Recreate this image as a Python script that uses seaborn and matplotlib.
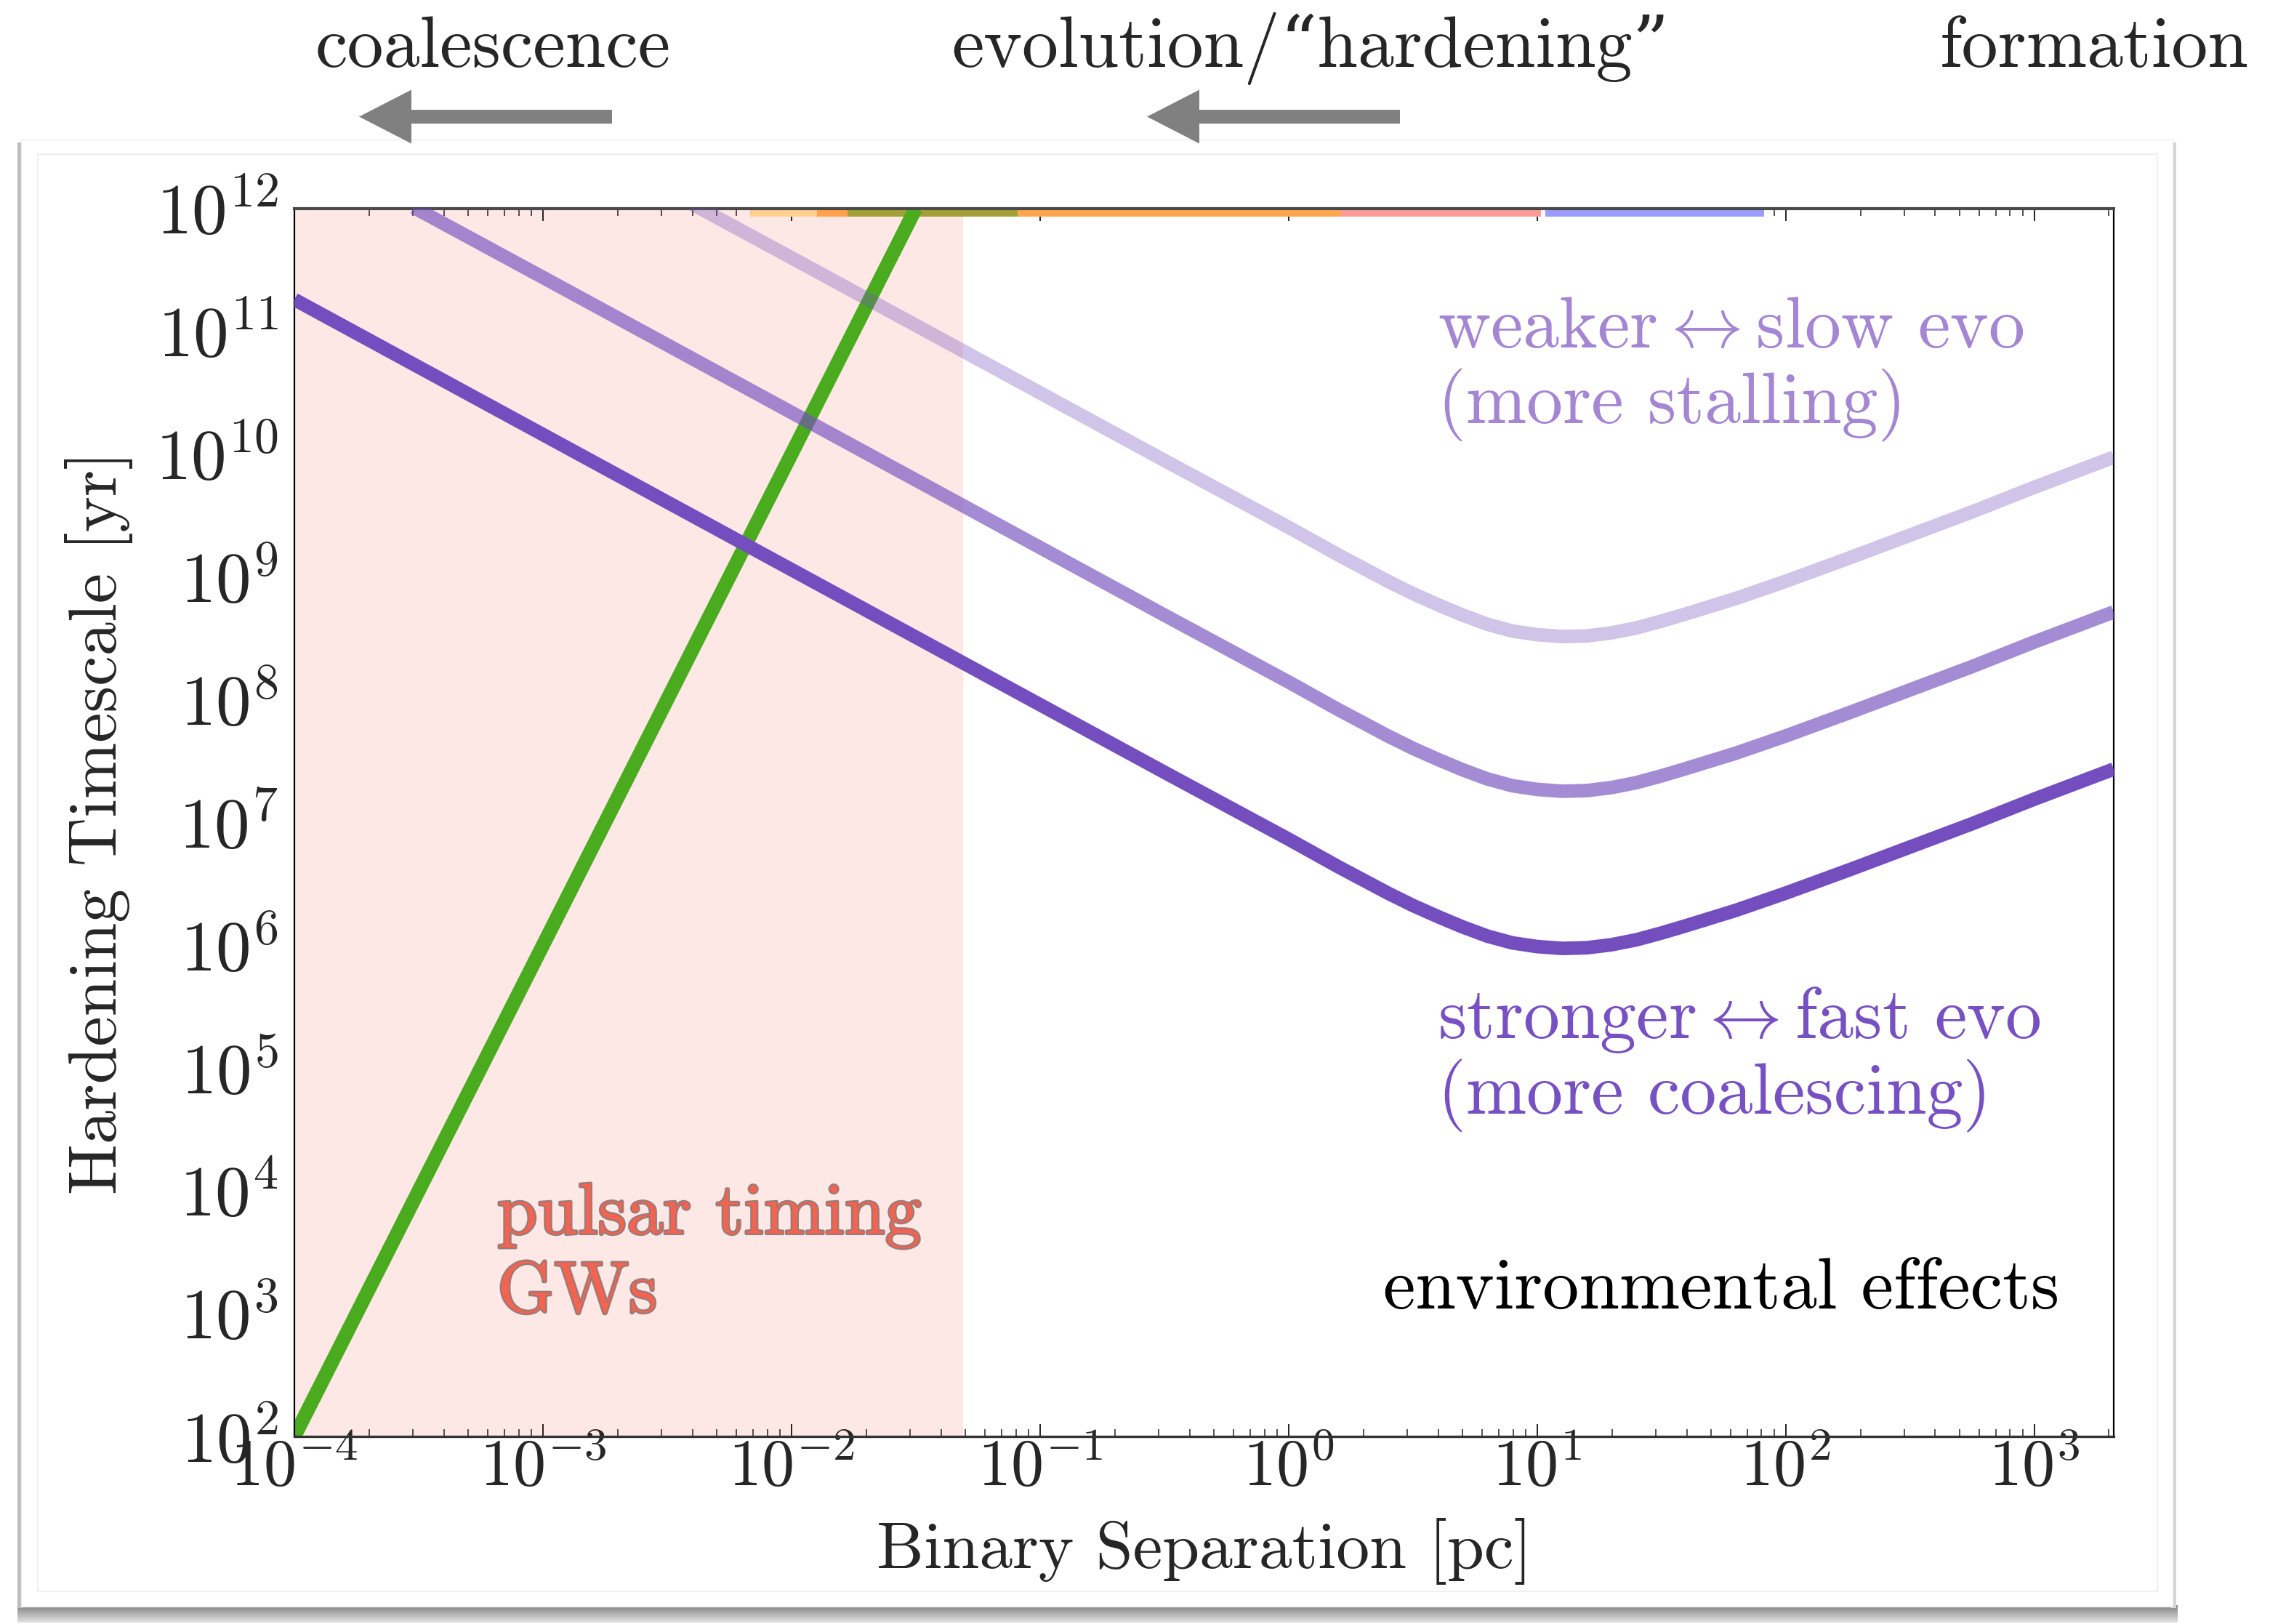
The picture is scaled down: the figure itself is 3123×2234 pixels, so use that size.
import numpy as np
import pandas as pd
import matplotlib
matplotlib.use("Agg")
import matplotlib.pyplot as plt
import seaborn as sns
from matplotlib.transforms import Affine2D
from matplotlib.patches import Rectangle, FancyArrow
import matplotlib.patheffects as pe
from matplotlib.ticker import FixedLocator, FuncFormatter, LogLocator, NullLocator, NullFormatter

# ---------------- data (log10 units) ----------------
# binary separation [pc] (log10) shared by the environmental curves
log_sep = [-4.0, -3.0, -2.0, -1.0, -0.5, 0.0, 0.2, 0.4, 0.5, 0.6, 0.7, 0.8, 0.9,
           1.0, 1.1, 1.2, 1.3, 1.4, 1.5, 1.6, 1.8, 2.0, 2.25, 2.5, 2.75, 3.0, 3.32]
# strong coupling -> fast evolution (log10 yr)
log_t_strong = [11.26, 10.16, 9.06, 7.96, 7.41, 6.865, 6.64, 6.425, 6.325, 6.235,
                6.15, 6.075, 6.02, 5.99, 5.975, 5.98, 6.005, 6.045, 6.10, 6.16,
                6.285, 6.425, 6.61, 6.80, 6.99, 7.19, 7.435]
# intermediate coupling
log_sep_mid = [-3.52, -3.0, -2.0, -1.0, -0.5, 0.0, 0.2, 0.4, 0.5, 0.6, 0.7, 0.8, 0.9,
               1.0, 1.1, 1.2, 1.3, 1.4, 1.5, 1.6, 1.8, 2.0, 2.25, 2.5, 2.75, 3.0, 3.32]
log_t_mid = [12.01, 11.44, 10.34, 9.24, 8.69, 8.145, 7.92, 7.705, 7.605, 7.515,
             7.43, 7.355, 7.30, 7.27, 7.255, 7.26, 7.285, 7.325, 7.38, 7.44,
             7.565, 7.705, 7.89, 8.08, 8.27, 8.47, 8.715]
# weak coupling -> slow evolution
log_sep_weak = [-2.42, -2.0, -1.0, -0.5, 0.0, 0.2, 0.4, 0.5, 0.6, 0.7, 0.8, 0.9,
                1.0, 1.1, 1.2, 1.3, 1.4, 1.5, 1.6, 1.8, 2.0, 2.25, 2.5, 2.75, 3.0, 3.32]
log_t_weak = [12.06, 11.60, 10.50, 9.95, 9.405, 9.18, 8.965, 8.865, 8.775, 8.69,
              8.615, 8.56, 8.53, 8.515, 8.52, 8.545, 8.585, 8.64, 8.70, 8.825,
              8.965, 9.15, 9.34, 9.53, 9.73, 9.975]
# gravitational-wave hardening
sep_gw = [1e-4, 0.0316]
t_gw = [1e2, 1e12]
# pulsar-timing band
pta_range = [1e-4, 0.049]
# thin coloured bands at the top edge
band_x0 = [0.0068, 0.01265, 0.0168, 0.081, 1.63, 10.8]
band_x1 = [0.01265, 0.0168, 0.081, 1.63, 10.4, 82.0]
x_limits = [1e-4, 2090.0]
y_limits = [1e2, 1e12]
x_tick_exps = [-4, -3, -2, -1, 0, 1, 2, 3]
y_tick_exps = [2, 3, 4, 5, 6, 7, 8, 9, 10, 11, 12]

sep_strong = 10.0 ** np.array(log_sep)
t_strong = 10.0 ** np.array(log_t_strong)
sep_mid = 10.0 ** np.array(log_sep_mid)
t_mid = 10.0 ** np.array(log_t_mid)
sep_weak = 10.0 ** np.array(log_sep_weak)
t_weak = 10.0 ** np.array(log_t_weak)

# ---------------- style ----------------
band_colors = ["#ffd08f", "#ffa04c", "#a3a037", "#ffa64f", "#ff9a9a", "#9c9cff"]
PURPLE = "#744ebf"
GREEN = "#4aab1f"

sns.set_style("white")
plt.rcParams["font.family"] = ["cmr10", "DejaVu Serif"]
plt.rcParams["mathtext.fontset"] = "cm"
plt.rcParams["axes.formatter.use_mathtext"] = True
plt.rcParams["axes.unicode_minus"] = False

W, H, DPI = 3123, 2234, 100
fig = plt.figure(figsize=(W / DPI, H / DPI), dpi=DPI, facecolor="white")
px = Affine2D().scale(1, -1).translate(0, H).scale(1 / DPI) + fig.dpi_scale_trans

# ---------------- card with shadow ----------------
shade = np.linspace(0, 1, 12)
for i, s in enumerate(shade):
    c = 0.52 + 0.35 * s
    fig.add_artist(Rectangle((24, 2208 + 2 * i), 2972, 2.2, transform=px,
                             facecolor=(c, c, c), lw=0, zorder=-5))
fig.add_artist(Rectangle((24, 196), 7, 2016, transform=px, facecolor="#bdbdbd", lw=0, zorder=-5))
fig.add_artist(Rectangle((2987, 196), 7, 2016, transform=px, facecolor="#d4d4d4", lw=0, zorder=-5))
fig.add_artist(Rectangle((29, 192), 2960, 2018, transform=px, facecolor="white",
                         edgecolor="#ececec", lw=1.0, zorder=-4))
fig.add_artist(Rectangle((52, 212), 2916, 1977, transform=px, fill=False,
                         edgecolor="#f0f0f0", lw=1.5, zorder=-3))

# ---------------- axes ----------------
ax = fig.add_axes([405 / W, 1 - 1976 / H, (2908 - 405) / W, (1976 - 287) / H])
ax.set_facecolor("white")
ax.set_xscale("log")
ax.set_yscale("log")

ax.axvspan(pta_range[0], pta_range[1], color="#fee8e6", lw=0, zorder=0.5)
for x0, x1, c in zip(band_x0, band_x1, band_colors):
    ax.axvspan(x0, x1, ymin=0.9935, ymax=1.0, color=c, lw=0, zorder=0.6)

sns.lineplot(x=sep_gw, y=t_gw, ax=ax, color=GREEN, linewidth=14, sort=False,
             estimator=None, solid_capstyle="butt", zorder=2)
sns.lineplot(x=sep_weak, y=t_weak, ax=ax, color=PURPLE, alpha=0.33, linewidth=13.5,
             sort=False, estimator=None, solid_capstyle="butt", zorder=3)
sns.lineplot(x=sep_mid, y=t_mid, ax=ax, color=PURPLE, alpha=0.65, linewidth=13.5,
             sort=False, estimator=None, solid_capstyle="butt", zorder=3)
sns.lineplot(x=sep_strong, y=t_strong, ax=ax, color=PURPLE, alpha=1.0, linewidth=13.5,
             sort=False, estimator=None, solid_capstyle="butt", zorder=3)

ax.set_xlim(*x_limits)
ax.set_ylim(*y_limits)

ax.xaxis.set_major_locator(FixedLocator([10.0 ** e for e in x_tick_exps]))
ax.xaxis.set_minor_locator(LogLocator(base=10, subs=np.arange(2, 10)))
ax.xaxis.set_minor_formatter(NullFormatter())
ax.yaxis.set_major_locator(FixedLocator([10.0 ** e for e in y_tick_exps]))
ax.yaxis.set_minor_locator(NullLocator())
fmt = FuncFormatter(lambda v, p: r"$10^{%d}$" % int(round(np.log10(v))))
ax.xaxis.set_major_formatter(fmt)
ax.yaxis.set_major_formatter(fmt)

ax.tick_params(axis="x", which="both", direction="in", top=True, bottom=True,
               labelsize=65, pad=2, color="#222222")
ax.tick_params(axis="x", which="major", length=12, width=1.4)
ax.tick_params(axis="x", which="minor", length=7, width=1.1)
ax.tick_params(axis="y", which="both", left=False, right=False, length=0,
               labelsize=70, pad=16)

for side in ["left", "right", "bottom"]:
    ax.spines[side].set_color("black")
    ax.spines[side].set_linewidth(1.6)
ax.spines["top"].set_color("#4a4a4a")
ax.spines["top"].set_linewidth(3.0)
ax.spines["bottom"].set_color("#333333")
ax.spines["bottom"].set_linewidth(2.4)

ax.set_xlabel("Binary Separation [pc]", fontsize=66)
ax.xaxis.set_label_coords(0.5, -(2157 - 1976) / (1976 - 287))
ax.xaxis.label.set_va("baseline")
ax.set_ylabel("Hardening Timescale [yr]", fontsize=67)
ax.yaxis.set_label_coords((160 - 405) / (2908 - 405), 0.5)
ax.yaxis.label.set(rotation_mode="anchor", va="baseline", ha="center")

# ---------------- annotations ----------------
TS = 72
fig.text(434, 92, "coalescence", transform=px, fontsize=TS, ha="left", va="baseline")
fig.text(1309, 92, "evolution/\u201chardening\u201d", transform=px, fontsize=TS,
         ha="left", va="baseline")
fig.text(2669, 92, "formation", transform=px, fontsize=TS, ha="left", va="baseline")

for tail, tip in [(842, 494), (1926, 1578)]:
    fig.add_artist(FancyArrow(tail, 160.5, tip - tail, 0, width=19, head_width=74,
                              head_length=72, length_includes_head=True,
                              transform=px, color="#808080", lw=0, zorder=5))

fig.text(1978, 478, r"weaker$\leftrightarrow$slow evo", transform=px, fontsize=TS,
         color="#a486d3", ha="left", va="baseline")
fig.text(1978, 582, "(more stalling)", transform=px, fontsize=TS,
         color="#a486d3", ha="left", va="baseline")
fig.text(1978, 1428, r"stronger$\leftrightarrow$fast evo", transform=px, fontsize=TS,
         color="#7750c2", ha="left", va="baseline")
fig.text(1978, 1532, "(more coalescing)", transform=px, fontsize=TS,
         color="#7750c2", ha="left", va="baseline")
fig.text(2833, 1800, "environmental effects", transform=px, fontsize=TS,
         color="black", ha="right", va="baseline")

shadow = [pe.Stroke(linewidth=3, foreground="#3a2a2a", alpha=0.55), pe.Normal()]
fig.text(684, 1697, "pulsar timing", transform=px, fontsize=TS, color="#f26452",
         ha="left", va="baseline", path_effects=shadow)
fig.text(684, 1805, "GWs", transform=px, fontsize=TS, color="#f26452",
         ha="left", va="baseline", path_effects=shadow)

fig.savefig("out.png", dpi=DPI, facecolor="white")
